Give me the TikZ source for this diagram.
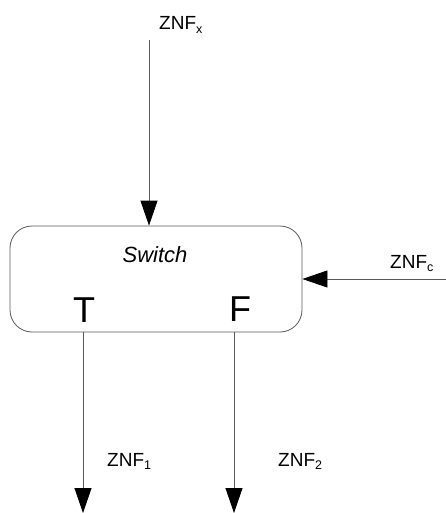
\documentclass[tikz,border=0pt]{standalone}
\usepackage{fontspec}
\setmainfont{Liberation Sans}
\usetikzlibrary{arrows.meta}
\newcommand{\zsub}[1]{\raisebox{-0.3ex}{\fontsize{12.5}{12.5}\selectfont #1}}
\begin{document}
\begin{tikzpicture}[x=1pt,y=-1pt,
  conn/.style={draw=black!65, line width=0.8pt, -{Triangle[length=25pt,width=17pt,fill=black,color=black]}},
  lbl/.style={font=\fontsize{19}{19}\selectfont, inner sep=0pt, anchor=base west},
  big/.style={font=\fontsize{36}{36}\selectfont, inner sep=0pt, anchor=base}]
\useasboundingbox (0,0) rectangle (446,513);
\node[draw=black!65, line width=0.8pt, rounded corners=22pt, minimum width=292pt, minimum height=106pt, inner sep=0pt] (sw) at (156,279) {};
\node[inner sep=0pt, anchor=base, font=\fontsize{22}{22}\selectfont\itshape] (swl) at (155,262) {Switch};
\node[big] (t) at (84,322) {T};
\node[big] (f) at (240,321) {F};
\coordinate (xin) at (149,40);
\coordinate (cin) at (446,279);
\coordinate (o1) at (83,513);
\coordinate (o2) at (234,513);
\coordinate (tb) at (83,332);
\coordinate (fb) at (234,332);
\draw[conn] (xin) -- (xin |- sw.north);
\draw[conn] (cin) -- (sw.east |- cin);
\draw[conn] (tb) -- (o1);
\draw[conn] (fb) -- (o2);
\node[lbl] (zx) at (159,30) {ZNF\zsub{x}};
\node[lbl] (zc) at (390,268) {ZNF\zsub{c}};
\node[lbl] (z1) at (107,466) {ZNF\zsub{1}};
\node[lbl] (z2) at (278,466) {ZNF\zsub{2}};
\end{tikzpicture}
\end{document}
